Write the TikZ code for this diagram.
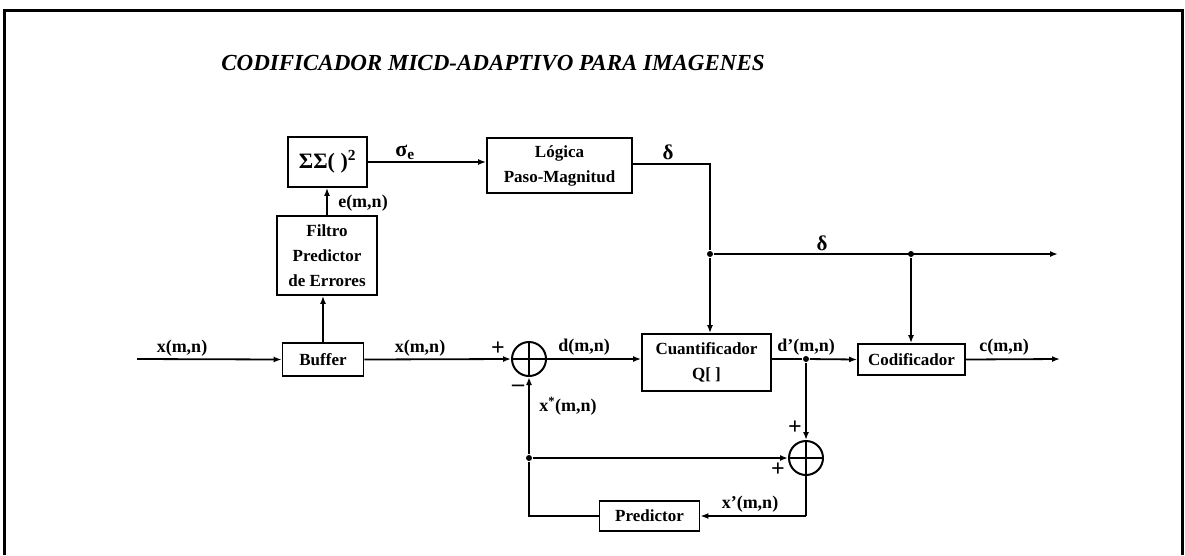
\documentclass[tikz,border=0pt]{standalone}
\usepackage{fontspec}
\setmainfont{Liberation Serif}
\usetikzlibrary{arrows.meta}
\begin{document}
\begin{tikzpicture}[x=1pt,y=-1pt,
  line width=1.8pt,
  blk/.style={draw,line width=1.8pt,inner sep=0pt,font=\fontsize{17}{25}\selectfont\bfseries,align=center},
  lbl/.style={inner sep=0pt,font=\fontsize{18}{22}\selectfont\bfseries},
  sgn/.style={inner sep=0pt,font=\fontsize{24}{24}\selectfont\bfseries},
  arr/.style={-{Latex[length=8pt,width=6pt]}},
  dot/.style={circle,fill,inner sep=0pt,minimum size=6pt},
  sumc/.style={circle,draw,line width=2pt,minimum size=34pt,inner sep=0pt},
  crs/.style={line width=2.6pt}]
\useasboundingbox (0,0) rectangle (1185,555);
\fill[white] (0,0) rectangle (1185,555);
\draw[line width=3pt] (4,555) -- (4,10) -- (1182,10) -- (1182,555);

\node[inner sep=0pt,font=\fontsize{23}{23}\selectfont\bfseries\itshape] (title) at (493,63) {CODIFICADOR MICD-ADAPTIVO PARA IMAGENES};

% blocks
\node[blk,minimum width=79pt,minimum height=50pt,font=\fontsize{22}{22}\selectfont\bfseries] (sq) at (327.5,162) {ΣΣ( )\textsuperscript{2}};
\node[blk,minimum width=145pt,minimum height=55pt] (log) at (559.5,165.5) {Lógica\\Paso-Magnitud};
\node[blk,minimum width=100pt,minimum height=79pt] (fil) at (327,255.5) {Filtro\\Predictor\\de Errores};
\node[blk,minimum width=81pt,minimum height=33pt] (buf) at (323,359.5) {Buffer};
\node[sumc] (s1) at (529,359) {};
\node[blk,minimum width=129pt,minimum height=57pt] (cq) at (706.5,362.5) {Cuantificador\\Q[ ]};
\node[blk,minimum width=107pt,minimum height=31pt] (cod) at (911.5,359.5) {Codificador};
\node[sumc] (s2) at (806,458) {};
\node[blk,minimum width=100pt,minimum height=30pt] (pred) at (649.5,516) {Predictor};

% crosses in summers
\draw[crs] (s1.north) -- (s1.south) (s1.west) -- (s1.east);
\draw[crs] (s2.north) -- (s2.south) (s2.west) -- (s2.east);

% junctions and free ends
\coordinate (in) at (137,359);
\coordinate (out) at (1060,359);
\coordinate (dout) at (1058,254);
\node[dot] (j1) at (710,254) {};
\node[dot] (j2) at (911,254) {};
\node[dot] (j3) at (806,359) {};
\node[dot] (j4) at (529,458) {};
\coordinate (c2) at (806,516);
\coordinate (c3) at (529,516);

% connectors
\draw[arr] (in) -- (buf.west);
\draw[arr] (buf.north) -- (buf.north |- fil.south);
\draw[arr] (fil.north) -- (fil.north |- sq.south);
\draw[arr] (sq.east) -- (sq.east -| log.west);
\draw (log.east |- 0,164) -| (j1);
\draw[arr] (j1) -- (j1 |- cq.north);
\draw[arr] (j1) -- (dout);
\draw[arr] (j2) -- (j2 |- cod.north);
\draw[arr] (buf.east) -- (s1.west);
\draw[arr] (s1.east) -- (s1.east -| cq.west);
\draw (cq.east |- j3) -- (j3);
\draw[arr] (j3) -- (cod.west);
\draw[arr] (j3) -- (s2.north);
\draw[arr] (cod.east) -- (out);
\draw[arr] (j4) -- (s2.west);
\draw (s2.south) -- (c2);
\draw[arr] (c2) -- (pred.east);
\draw (pred.west) -- (c3) -- (j4);
\draw[arr] (j4) -- (s1.south);

% labels
\node[lbl] (lin) at (182,348) {x(m,n)};
\node[lbl] (lbuf) at (420,348) {x(m,n)};
\node[sgn] (p1) at (498,349) {+};
\node[sgn] (m1) at (518,388) {–};
\node[lbl] (ld) at (584,347) {d(m,n)};
\node[lbl] (lxs) at (568,406) {x\textsuperscript{*}(m,n)};
\node[lbl] (ldp) at (806,347) {d'(m,n)};
\node[lbl] (lc) at (1004,347) {c(m,n)};
\node[lbl] (lxp) at (750,504) {x'(m,n)};
\node[sgn] (p2) at (795,428) {+};
\node[sgn] (p3) at (778,470) {+};
\node[lbl] (le) at (363,203) {e(m,n)};
\node[lbl,font=\fontsize{22}{22}\selectfont\bfseries] (lsig) at (405,152) {σ\textsubscript{e}};
\node[lbl,font=\fontsize{21}{21}\selectfont\bfseries] (ld1) at (668,152) {δ};
\node[lbl,font=\fontsize{21}{21}\selectfont\bfseries] (ld2) at (822,243) {δ};
\end{tikzpicture}
\end{document}
